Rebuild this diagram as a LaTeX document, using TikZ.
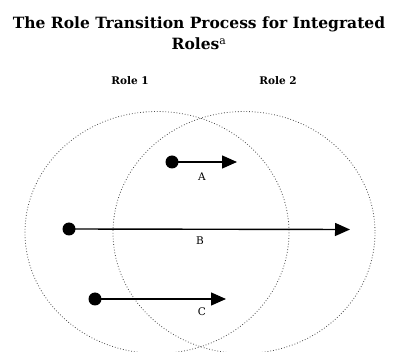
\documentclass[tikz,border=0pt]{standalone}
\usepackage{fontspec}
\setmainfont{DejaVu Serif}
\usetikzlibrary{arrows.meta}
\tikzset{
  rolecircle/.style={draw=black!70, dotted, line width=0.8pt},
  dotnode/.style={circle, fill=black, inner sep=0pt, minimum size=13pt},
  movearrow/.style={line width=1.4pt, -{Triangle[length=15pt,width=13pt]}, shorten <=-1pt},
  lbl/.style={font=\fontsize{10.5}{12}\selectfont},
  rolelbl/.style={font=\bfseries\fontsize{10.5}{12}\selectfont},
}
\begin{document}
\begin{tikzpicture}[x=1pt,y=-1pt]
\useasboundingbox (0,0) rectangle (396,352);
\fill[white] (0,0) rectangle (396,352);
\node[font=\bfseries\fontsize{15.5}{21}\selectfont, align=center] (title) at (199,33)
  {The Role Transition Process for Integrated\\Roles\textsuperscript{\mdseries a}};
\node[rolelbl] (r1) at (130,81) {Role 1};
\node[rolelbl] (r2) at (278,81) {Role 2};
\begin{scope}
\clip (0,0) rectangle (396,352);
\draw[rolecircle] (157,232.5) ellipse [x radius=132, y radius=121];
\draw[rolecircle] (244,232.5) ellipse [x radius=131, y radius=121];
\end{scope}
% A
\node[dotnode] (a0) at (172,162) {};
\coordinate (a1) at (237,162);
\draw[movearrow] (a0.center) -- (a1);
\node[lbl] (la) at (202,177) {A};
% B
\node[dotnode] (b0) at (69,229) {};
\coordinate (b1) at (350,229.5);
\draw[movearrow] (b0.center) -- (b1);
\node[lbl] (lb) at (200,241) {B};
% C
\node[dotnode] (c0) at (95,299) {};
\coordinate (c1) at (226,299);
\draw[movearrow] (c0.center) -- (c1);
\node[lbl] (lc) at (202,312) {C};
\end{tikzpicture}
\end{document}
